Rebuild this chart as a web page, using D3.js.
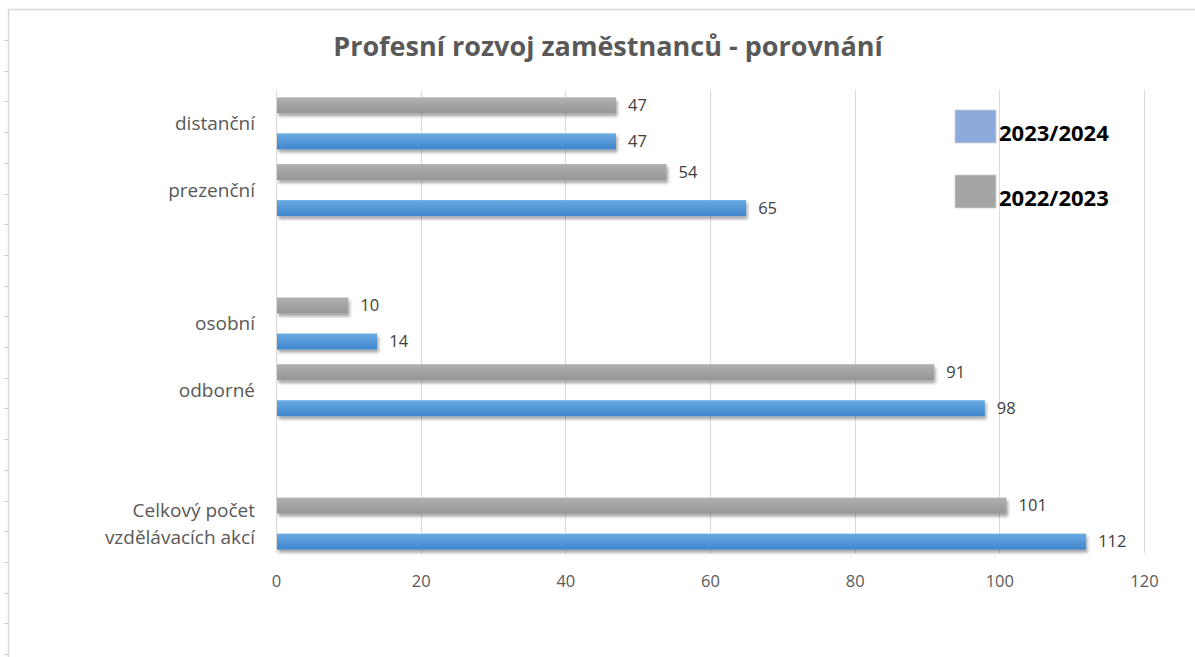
<!DOCTYPE html>
<html>
<head>
<meta charset="utf-8">
<script src="https://cdn.jsdelivr.net/npm/d3@7"></script>
<style>
  body { margin: 0; background: #fff; }
  svg { display: block; font-family: "Open Sans", "Noto Sans", sans-serif; }
</style>
</head>
<body>
<div id="chart"></div>
<script>
/*categories from top to bottom, blank entries are spacer rows*/
var categories = ["distanční", "prezenční", "", "osobní", "odborné", " ", "Celkový počet|vzdělávacích akcí"];
var seriesNames = ["2022/2023", "2023/2024"];
var values2022 = [47, 54, null, 10, 91, null, 101];
var values2023 = [47, 65, null, 14, 98, null, 112];
var xTicks = [0, 20, 40, 60, 80, 100, 120];

var svgWidth = 1195;
var svgHeight = 657;
var margin = {top: 90, right: 51, bottom: 100, left: 276};
var width = svgWidth - margin.left - margin.right;
var height = svgHeight - margin.top - margin.bottom;

var svg = d3.select("#chart").append("svg")
  .attr("width", svgWidth)
  .attr("height", svgHeight);

var defs = svg.append("defs");

/*bar gradients*/
function gradient(id, top, bottom) {
  var g = defs.append("linearGradient").attr("id", id)
    .attr("x1", 0).attr("y1", 0).attr("x2", 0).attr("y2", 1);
  g.append("stop").attr("offset", "0%").attr("stop-color", top);
  g.append("stop").attr("offset", "100%").attr("stop-color", bottom);
}
gradient("gBlue", "#6aaae2", "#3f86cb");
gradient("gGray", "#b1b1b1", "#959595");

var shadow = defs.append("filter").attr("id", "shadow")
  .attr("x", "-5%").attr("y", "-40%").attr("width", "110%").attr("height", "200%");
shadow.append("feDropShadow")
  .attr("dx", 1.5).attr("dy", 3).attr("stdDeviation", 1.8)
  .attr("flood-color", "#000").attr("flood-opacity", 0.35);

/*outer frame and the little ruler ticks on the left edge*/
svg.append("line").attr("x1", 8).attr("x2", svgWidth).attr("y1", 9.5).attr("y2", 9.5)
  .attr("stroke", "#d9d9d9").attr("stroke-width", 1.5);
svg.append("line").attr("x1", 8.5).attr("x2", 8.5).attr("y1", 9).attr("y2", svgHeight)
  .attr("stroke", "#d9d9d9").attr("stroke-width", 1.5);
d3.range(40, svgHeight, 30.7).forEach(function(y) {
  svg.append("line").attr("x1", 4).attr("x2", 8).attr("y1", Math.round(y) + 0.5).attr("y2", Math.round(y) + 0.5)
    .attr("stroke", "#d0d0d0");
});

/*title*/
svg.append("text")
  .attr("x", 608)
  .attr("y", 56)
  .attr("text-anchor", "middle")
  .attr("font-size", 27)
  .attr("font-weight", "bold")
  .attr("fill", "#595959")
  .text("Profesní rozvoj zaměstnanců - porovnání");

var g = svg.append("g").attr("transform", `translate(${margin.left},${margin.top})`);

var xScale = d3.scaleLinear().domain([0, 120]).range([0, width]);
var yScale = d3.scaleBand().domain(categories).range([0, height]).padding(0);
var subScale = d3.scaleBand().domain(seriesNames).range([0, yScale.bandwidth()])
  .paddingInner(0.556).paddingOuter(0.204);

/*grid lines*/
g.append("g").selectAll("line").data(xTicks).enter().append("line")
  .attr("x1", d => Math.round(xScale(d)) + 0.5)
  .attr("x2", d => Math.round(xScale(d)) + 0.5)
  .attr("y1", 0).attr("y2", height - 4)
  .attr("stroke", "#d9d9d9");

/*x axis labels*/
var xAxis = d3.axisBottom(xScale).tickValues(xTicks).tickSize(0).tickPadding(18);
var xg = g.append("g").attr("transform", `translate(0,${height})`).call(xAxis);
xg.select(".domain").remove();
xg.selectAll("text").attr("font-size", 16.5).attr("fill", "#595959").attr("font-family", "\"Open Sans\", sans-serif");

/*category labels*/
var catLabels = g.append("g").selectAll("text").data(categories.filter(c => c.trim() !== "")).enter().append("text")
  .attr("x", -21)
  .attr("y", d => yScale(d) + yScale.bandwidth() / 2)
  .attr("text-anchor", "end")
  .attr("font-size", 19)
  .attr("fill", "#595959");
catLabels.each(function(d) {
  var lines = d.split("|");
  var t = d3.select(this);
  lines.forEach(function(line, i) {
    t.append("tspan")
      .attr("x", -21)
      .attr("dy", i === 0 ? (0.35 - (lines.length - 1) * 0.72) + "em" : "1.44em")
      .text(line);
  });
});

/*bars*/
var rows = [];
categories.forEach(function(c, i) {
  if (values2022[i] != null) rows.push({cat: c, series: "2022/2023", value: values2022[i], fill: "url(#gGray)"});
  if (values2023[i] != null) rows.push({cat: c, series: "2023/2024", value: values2023[i], fill: "url(#gBlue)"});
});

g.append("g").selectAll("rect").data(rows).enter().append("rect")
  .attr("x", xScale(0) + 1)
  .attr("y", d => yScale(d.cat) + subScale(d.series))
  .attr("width", d => xScale(d.value) - xScale(0) - 1)
  .attr("height", subScale.bandwidth())
  .attr("fill", d => d.fill)
  .attr("filter", "url(#shadow)");

g.append("g").selectAll("text").data(rows).enter().append("text")
  .attr("x", d => xScale(d.value) + 12)
  .attr("y", d => yScale(d.cat) + subScale(d.series) + subScale.bandwidth() / 2)
  .attr("dy", "0.35em")
  .attr("font-size", 16.5)
  .attr("fill", "#404040")
  .text(d => d.value);

/*left axis line*/
g.append("line").attr("x1", 0.5).attr("x2", 0.5).attr("y1", 0).attr("y2", height - 4)
  .attr("stroke", "#d9d9d9");

/*legend*/
var legendItems = [
  {name: "2023/2024", color: "#8eaadc"},
  {name: "2022/2023", color: "#a5a5a5"}
];
var legend = svg.append("g").selectAll("g").data(legendItems).enter().append("g")
  .attr("transform", (d, i) => `translate(955,${110 + i * 65})`);
legend.append("rect")
  .attr("width", 41).attr("height", 33)
  .attr("fill", d => d.color)
  .attr("stroke", "#d0d0d0").attr("stroke-width", 0.8);
legend.append("text")
  .attr("x", 44).attr("y", 31)
  .attr("font-size", 22)
  .attr("font-weight", "bold")
  .attr("fill", "#000")
  .text(d => d.name);
</script>
</body>
</html>
